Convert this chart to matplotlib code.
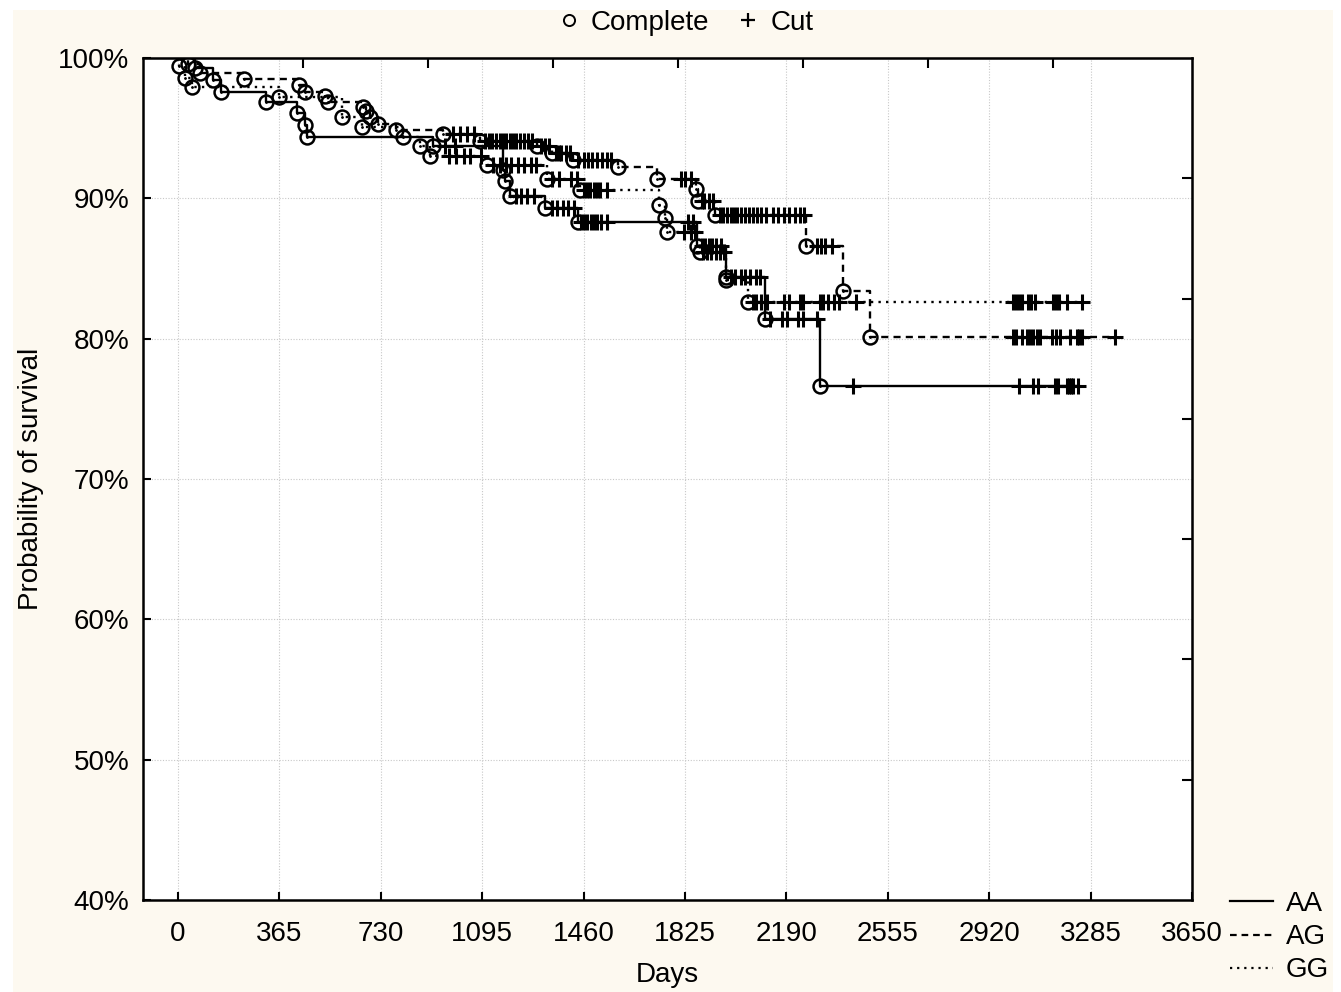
import numpy as np
import matplotlib.pyplot as plt
from matplotlib.lines import Line2D
from matplotlib.patches import Rectangle
from matplotlib.ticker import FuncFormatter

plt.rcParams['font.family'] = ['Liberation Sans', 'DejaVu Sans']

# ---- data (days, survival %) ----
aa_event_days = [61, 126, 155, 317, 428, 457, 464, 918, 1170, 1177, 1195, 1321, 1440,
                 1868, 1973, 2113, 2311]
aa_event_surv = [99.3, 98.4, 97.6, 96.9, 96.1, 95.2, 94.4, 93.7, 92.0, 91.2, 90.2, 89.3, 88.3,
                 86.6, 84.4, 81.4, 76.6]
aa_cut_days = [961, 997, 1215, 1235, 1255, 1280, 1345, 1365, 1385, 1405, 1425,
               1450, 1462, 1474, 1486, 1498, 1510, 1522, 1545, 1835, 1855,
               1885, 1897, 1910, 1922, 1935, 1955, 1990, 2005, 2025, 2040, 2060, 2080, 2095,
               2131, 2174, 2192, 2232, 2250, 2300, 2430,
               3028, 3078, 3096, 3157, 3168, 3200, 3208, 3215, 3222, 3240]

ag_event_days = [36, 79, 238, 436, 457, 529, 540, 666, 677, 691, 720, 785, 954, 1087,
                 1292, 1346, 1422, 1584, 1724, 1865, 1872, 1933, 2262, 2394, 2491]
ag_event_surv = [99.6, 98.9, 98.5, 98.1, 97.6, 97.3, 96.9, 96.5, 96.2, 95.8, 95.3, 94.9, 94.6, 94.1,
                 93.7, 93.2, 92.7, 92.2, 91.4, 90.7, 89.8, 88.8, 86.6, 83.4, 80.1]
ag_cut_days = [990, 1015, 1040, 1065,
               1105, 1120, 1130, 1145, 1160, 1170, 1180, 1195, 1205, 1215, 1230, 1245, 1260, 1275,
               1305, 1320, 1335, 1360, 1370, 1380, 1395, 1410,
               1440, 1460, 1475, 1490, 1510, 1525, 1545, 1560,
               1810, 1825, 1845, 1885, 1895, 1910, 1925,
               1950, 1962, 1975, 1990, 2000, 2012, 2025, 2040, 2055, 2070, 2085, 2100, 2115,
               2140, 2160, 2180, 2200, 2220, 2240, 2252,
               2300, 2315, 2330, 2355,
               3006, 3016, 3038, 3056, 3066, 3078, 3092, 3103, 3146, 3160, 3175, 3211, 3236,
               3245, 3254, 3373]

gg_event_days = [3, 25, 50, 364, 590, 662, 810, 871, 907, 1112, 1328, 1447, 1732, 1753, 1760,
                 1879, 1973, 2052]
gg_event_surv = [99.4, 98.6, 97.9, 97.2, 95.8, 95.1, 94.4, 93.7, 93.0, 92.4, 91.4, 90.6, 89.5, 88.6,
                 87.6, 86.2, 84.2, 82.6]
gg_cut_days = [975, 1000, 1030, 1050, 1090,
               1135, 1160, 1180, 1200, 1225, 1245, 1270, 1290,
               1345, 1370, 1415, 1435,
               1460, 1472, 1484, 1496, 1508, 1520, 1545,
               1820, 1845, 1862, 1890, 1905, 1920, 1935, 1950, 1965,
               2070, 2080, 2100, 2120, 2180, 2200, 2240, 2250, 2310, 2320, 2340, 2360, 2380, 2440,
               3006, 3016, 3027, 3038, 3060, 3071, 3085, 3150, 3160, 3172, 3200, 3254]

groups = ['AA', 'AG', 'GG']
x_ticks = [0, 365, 730, 1095, 1460, 1825, 2190, 2555, 2920, 3285, 3650]


def surv_at(days, ev_days, ev_surv):
    levels = np.concatenate([[100.0], ev_surv])
    idx = np.searchsorted(ev_days, days, side='right')
    return levels[idx]


fig = plt.figure(figsize=(13.41, 9.92), dpi=100, facecolor='white')
fig.patches.append(Rectangle((13 / 1341, 0), 1320 / 1341, 982 / 992,
                             transform=fig.transFigure, facecolor='#FDF9F0',
                             edgecolor='none', zorder=-10))

ax = fig.add_axes([143 / 1341, 1 - 900 / 992, 1049 / 1341, 842 / 992])
ax.set_facecolor('white')

styles = {
    'AA': dict(linestyle='-'),
    'AG': dict(linestyle=(0, (3, 2.2))),
    'GG': dict(linestyle=(0, (1, 2.2))),
}
data = {
    'AA': (aa_event_days, aa_event_surv, aa_cut_days),
    'AG': (ag_event_days, ag_event_surv, ag_cut_days),
    'GG': (gg_event_days, gg_event_surv, gg_cut_days),
}

for g in groups:
    ev_d, ev_s, cut_d = data[g]
    end = max(max(cut_d), max(ev_d))
    t = [0] + list(ev_d) + [end]
    s = [100.0] + list(ev_s) + [ev_s[-1]]
    ax.step(t, s, where='post', color='black', lw=1.7, **styles[g])
    ax.plot(ev_d, ev_s, 'o', ms=10, mfc='none', mec='black', mew=1.8, ls='none')
    ax.plot(ev_d, ev_s, '.', ms=2, color='black', ls='none')
    cut_s = surv_at(cut_d, ev_d, ev_s)
    ax.plot(cut_d, cut_s, '+', ms=11, mew=2.2, color='black', ls='none')

ax.set_xlim(-126, 3650)
ax.set_ylim(40, 100)
ax.set_xticks(x_ticks)
ax.set_yticks(np.arange(40, 101, 10))
ax.yaxis.set_major_formatter(FuncFormatter(lambda v, p: f'{v:.0f}%'))
ax.tick_params(direction='in', length=6, width=1.5, labelsize=20, pad=10)
ax.tick_params(axis='x', pad=15)
ax.grid(True, color='#C8C8C8', linestyle=(0, (1, 1.5)), linewidth=0.8)
for sp in ax.spines.values():
    sp.set_linewidth(1.8)

# secondary ticks on top and right, as drawn in the reference
top = ax.secondary_xaxis('top')
top.set_xticks([450 * k for k in range(1, 8)])
top.tick_params(direction='in', length=7, width=1.5, labeltop=False)
right = ax.secondary_yaxis('right')
right.set_yticks([40 + 60 * k / 7 for k in range(1, 7)])
right.tick_params(direction='in', length=7, width=1.5, labelright=False)

ax.set_xlabel('Days', fontsize=20, labelpad=11)
ax.set_ylabel('Probability of survival', fontsize=20, labelpad=10)

h_top = [Line2D([], [], marker='o', ms=8, mfc='none', mec='black', mew=1.4, ls='none'),
         Line2D([], [], marker='+', ms=10, mew=1.6, color='black', ls='none')]
fig.legend(h_top, ['Complete', 'Cut'], loc='center', bbox_to_anchor=(684 / 1341, 1 - 23 / 992),
           ncol=2, frameon=False, fontsize=20, handletextpad=0.3, columnspacing=0.9,
           handlelength=1.0, borderpad=0)

h_grp = [Line2D([], [], color='black', lw=1.6, **styles[g]) for g in groups]
fig.legend(h_grp, groups, loc='upper left', bbox_to_anchor=(1230 / 1341, 1 - 891 / 992),
           frameon=False, fontsize=20, handlelength=1.55, handletextpad=0.45,
           labelspacing=0.26, borderpad=0, borderaxespad=0)

fig.savefig('out.png', dpi=100, facecolor=fig.get_facecolor())
